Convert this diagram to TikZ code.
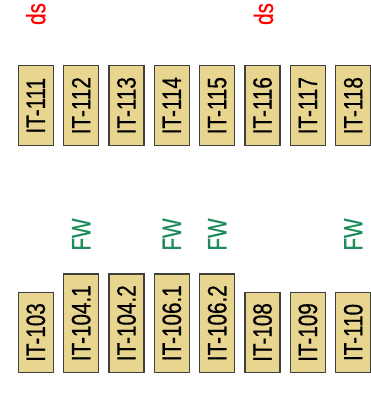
\documentclass[tikz,border=0pt]{standalone}
\usepackage{fontspec}
\setmainfont[FakeBold=0.7]{Liberation Sans}
\definecolor{tagfill}{HTML}{E8D590}
\definecolor{fwgreen}{HTML}{1E8C5A}
\newcommand{\narrowtxt}[1]{\scalebox{0.78}[1]{#1}}
\begin{document}
\begin{tikzpicture}[x=1pt,y=1pt,
  tag/.style={draw=black!75, line width=1.2pt, fill=tagfill, rotate=90,
    minimum width=80pt, minimum height=35pt, inner sep=0pt,
    font=\fontsize{26.5}{30}\selectfont, text=black},
  talltag/.style={tag, minimum width=98.3pt},
  lbl/.style={rotate=90, inner sep=0pt, font=\fontsize{26.5}{30}\selectfont},
  dslbl/.style={lbl, text=red},
  fwlbl/.style={lbl, text=fwgreen}]
\useasboundingbox (0,0) rectangle (371,-398);
% top row
\node[tag] (t1) at (35.8,-105.7) {\narrowtxt{IT-111}};
\node[tag] (t2) at (81.15,-105.7) {\narrowtxt{IT-112}};
\node[tag] (t3) at (126.5,-105.7) {\narrowtxt{IT-113}};
\node[tag] (t4) at (171.85,-105.7) {\narrowtxt{IT-114}};
\node[tag] (t5) at (217.2,-105.7) {\narrowtxt{IT-115}};
\node[tag] (t6) at (262.55,-105.7) {\narrowtxt{IT-116}};
\node[tag] (t7) at (307.9,-105.7) {\narrowtxt{IT-117}};
\node[tag] (t8) at (353.25,-105.7) {\narrowtxt{IT-118}};
% bottom row
\node[tag] (b1) at (35.8,-332.5) {\narrowtxt{IT-103}};
\node[talltag] (b2) at (81.15,-323.2) {\narrowtxt{IT-104.1}};
\node[talltag] (b3) at (126.5,-323.2) {\narrowtxt{IT-104.2}};
\node[talltag] (b4) at (171.85,-323.2) {\narrowtxt{IT-106.1}};
\node[talltag] (b5) at (217.2,-323.2) {\narrowtxt{IT-106.2}};
\node[tag] (b6) at (262.55,-332.5) {\narrowtxt{IT-108}};
\node[tag] (b7) at (307.9,-332.5) {\narrowtxt{IT-109}};
\node[tag] (b8) at (353.25,-332.5) {\narrowtxt{IT-110}};
% labels
\node[dslbl] (ds1) at (35.8,-14) {\narrowtxt{ds}};
\node[dslbl] (ds2) at (263.5,-14) {\narrowtxt{ds}};
\node[fwlbl] (fw1) at (81.15,-234.5) {\narrowtxt{FW}};
\node[fwlbl] (fw2) at (171.85,-234.5) {\narrowtxt{FW}};
\node[fwlbl] (fw3) at (217.2,-234.5) {\narrowtxt{FW}};
\node[fwlbl] (fw4) at (353.25,-234.5) {\narrowtxt{FW}};
\end{tikzpicture}
\end{document}
